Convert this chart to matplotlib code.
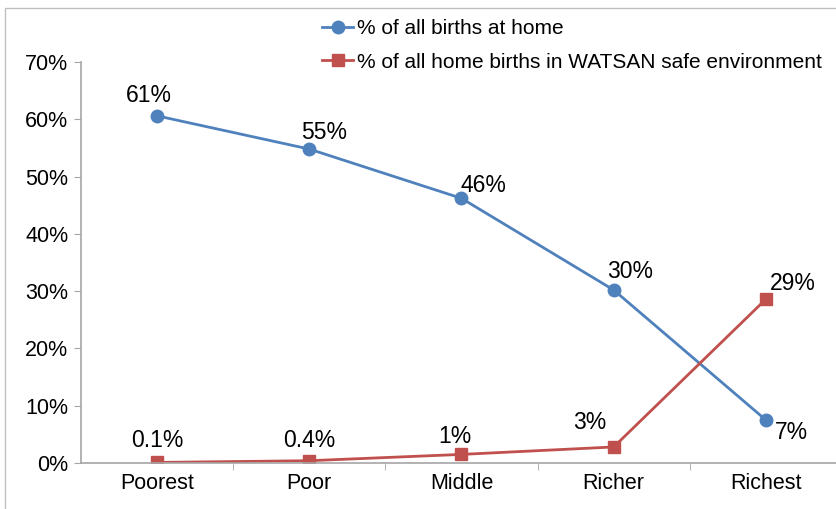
import matplotlib.pyplot as plt
from matplotlib.patches import Rectangle

plt.rcParams['font.family'] = ['Liberation Sans', 'DejaVu Sans']

# Data
categories = ['Poorest', 'Poor', 'Middle', 'Richer', 'Richest']
home_births = [60.6, 54.8, 46.2, 30.2, 7.5]
watsan_safe = [0.1, 0.4, 1.5, 2.8, 28.6]
home_labels = ['61%', '55%', '46%', '30%', '7%']
watsan_labels = ['0.1%', '0.4%', '1%', '3%', '29%']
yticks = [0, 10, 20, 30, 40, 50, 60, 70]

# label offsets in pixels (dx, dy)
home_offsets = [(-8, 20), (15, 17), (22, 13), (16, 18), (26, -12)]
watsan_offsets = [(0, 22), (0, 20), (-7, 18), (-24, 24), (27, 16)]

blue = '#4F81BD'
red = '#C0504D'
grey = '#A6A6A6'

fig = plt.figure(figsize=(8.37, 5.09), dpi=100)
ax = fig.add_axes([81 / 837, 1 - 463 / 509, 761 / 837, (463 - 62) / 509])

x = range(len(categories))
ax.plot(x, home_births, color=blue, lw=2.0, marker='o', ms=9,
        label='% of all births at home')
ax.plot(x, watsan_safe, color=red, lw=2.0, marker='s', ms=8.5,
        label='% of all home births in WATSAN safe environment')

for i, (v, lab, off) in enumerate(zip(home_births, home_labels, home_offsets)):
    ax.annotate(lab, (i, v), xytext=off, textcoords='offset pixels',
                ha='center', va='center', fontsize=16.5)
for i, (v, lab, off) in enumerate(zip(watsan_safe, watsan_labels, watsan_offsets)):
    ax.annotate(lab, (i, v), xytext=off, textcoords='offset pixels',
                ha='center', va='center', fontsize=16.5)

ax.set_xlim(-0.5, len(categories) - 0.5)
ax.set_ylim(0, 70)
ax.set_yticks(yticks)
ax.set_yticklabels([f'{t}%' for t in yticks])
ax.set_xticks(list(x))
ax.set_xticklabels(categories)
ax.set_xticks([i + 0.5 for i in range(len(categories) - 1)], minor=True)
ax.tick_params(axis='x', which='major', length=0, pad=7, labelsize=15.5)
ax.tick_params(axis='x', which='minor', length=5, color=grey)
ax.tick_params(axis='y', length=5, color=grey, labelsize=15.5, pad=4)

for side in ['top', 'right']:
    ax.spines[side].set_visible(False)
for side in ['left', 'bottom']:
    ax.spines[side].set_color(grey)
    ax.spines[side].set_linewidth(1.2)

fig.legend(loc='upper left', bbox_to_anchor=(322 / 837, 1 - 19 / 509),
           frameon=False, fontsize=15, handlelength=1.5, handletextpad=0.2,
           labelspacing=0.7, borderaxespad=0, borderpad=0)

# outer chart frame
fig.patches.append(Rectangle((5 / 837, -0.05), 1.1, 1 - 8 / 509 + 0.05,
                             transform=fig.transFigure, fill=False,
                             edgecolor='#BFBFBF', lw=1))

fig.savefig('out.png', dpi=100)
